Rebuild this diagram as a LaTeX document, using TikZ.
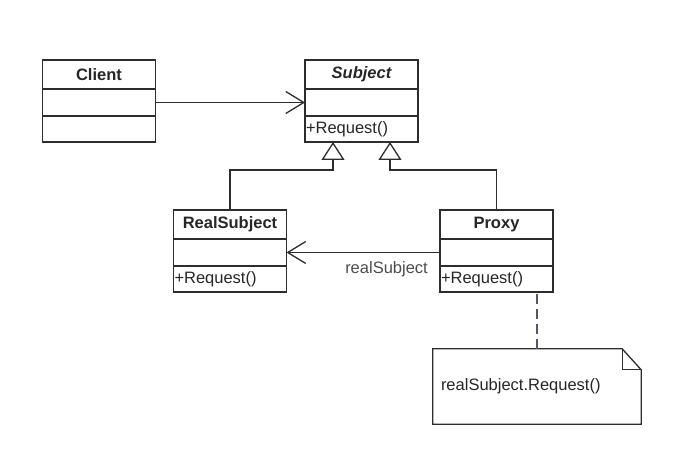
\documentclass[tikz,border=0pt]{standalone}
\usepackage{fontspec}
\setmainfont{Liberation Sans}
\usetikzlibrary{arrows.meta,positioning,calc}

\definecolor{umlline}{RGB}{45,45,45}
\definecolor{notedash}{RGB}{85,85,115}

\tikzset{
	classname/.style={draw=umlline, line width=1.3pt, minimum width=113pt, minimum height=29pt, inner sep=0pt, outer sep=0pt, font=\fontsize{16.5}{19}\selectfont\bfseries},
	classattr/.style={draw=umlline, line width=1.3pt, minimum width=113pt, minimum height=27pt, inner sep=0pt, outer sep=0pt},
	classops/.style={draw=umlline, line width=1.3pt, minimum height=26pt, text width=111pt, inner xsep=1pt, inner ysep=0pt, outer sep=0pt, align=left},
	assoc/.style={umlline, line width=1.3pt, -{Straight Barb[length=18pt,width=22pt]}},
	inherit/.style={umlline, line width=1.3pt, -{Triangle[open, length=18pt, width=23pt]}},
	notelink/.style={notedash, line width=1.3pt, dash pattern=on 10pt off 5pt},
	notebox/.style={minimum width=208pt, minimum height=75pt, text width=192pt, inner xsep=8pt, align=left}
}

\begin{document}
\begin{tikzpicture}[x=1pt, y=-1pt, font=\fontsize{16.5}{19}\selectfont, text=black!85]
	\useasboundingbox (0,0) rectangle (697,468);
	% classes
	\node[classname] (client) at (99,74.5) {Client};
	\node[classattr, below=0pt of client] (client-attr) {};
	\node[classops, below=0pt of client-attr] (client-ops) {};

	\node[classname, font=\fontsize{16.5}{19}\selectfont\bfseries\itshape] (subject) at (361.5,74.5) {Subject};
	\node[classattr, below=0pt of subject] (subject-attr) {};
	\node[classops, below=0pt of subject-attr] (subject-ops) {+Request()};

	\node[classname] (realsubject) at (230,224.5) {RealSubject};
	\node[classattr, below=0pt of realsubject] (realsubject-attr) {};
	\node[classops, below=0pt of realsubject-attr] (realsubject-ops) {+Request()};

	\node[classname] (proxy) at (496.5,224.5) {Proxy};
	\node[classattr, below=0pt of proxy] (proxy-attr) {};
	\node[classops, below=0pt of proxy-attr] (proxy-ops) {+Request()};

	% note
	\node[notebox] (note) at (537,386.5) {realSubject.Request()};
	\draw[umlline, line width=1.3pt] (note.north west) -- ($(note.north east)+(-19,0)$) -- ($(note.north east)+(0,21)$) -- (note.south east) -- (note.south west) -- cycle;
	\draw[umlline, line width=1.3pt] ($(note.north east)+(-19,0)$) |- ($(note.north east)+(0,21)$);

	% connectors
	\draw[assoc] (client-attr.east) -- (client-attr.east -| subject-attr.west);
	\coordinate (genL) at ($(subject-ops.south)+(-28.5,0)$);
	\coordinate (genR) at ($(subject-ops.south)+(28.5,0)$);
	\draw[inherit] (realsubject.north) |- ($(genL)+(0,28)$) -- (genL);
	\draw[inherit] (proxy.north) |- ($(genR)+(0,28)$) -- (genR);
	\draw[assoc] (proxy-attr.west) -- (proxy-attr.west -| realsubject-attr.east);
	\node[anchor=east, inner sep=0pt, text=black!70] (role) at ($(proxy-attr.west)+(-12,17)$) {realSubject};
	\draw[notelink] (note.north) -- (note.north |- proxy-ops.south);
\end{tikzpicture}
\end{document}
